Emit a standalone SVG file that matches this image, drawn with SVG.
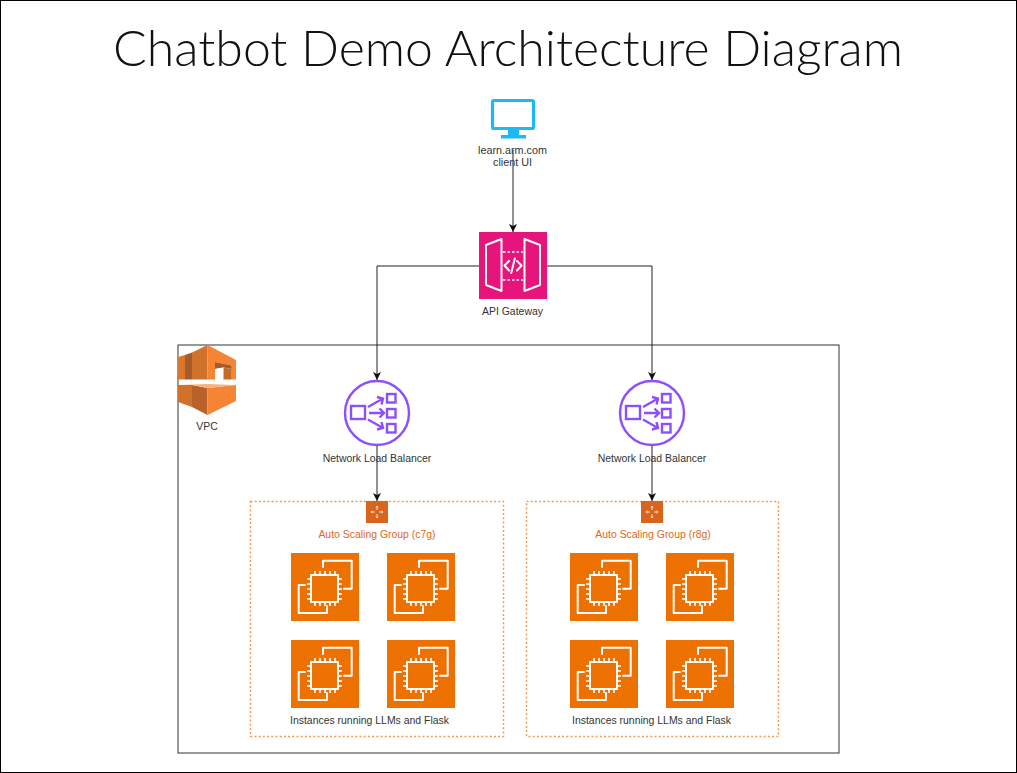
<svg xmlns="http://www.w3.org/2000/svg" width="1017" height="773" viewBox="0 0 1017 773">
<style>
text{font-family:"Liberation Sans",Arial,sans-serif;font-size:10.45px;fill:#333;text-anchor:middle}
.title{font-family:Lato,"Open Sans",sans-serif;font-weight:300;font-size:50px;fill:#111}
.org{fill:#D9691E}
.client{font-size:10.8px}
.line{fill:none;stroke:#222;stroke-width:1}
.asg{fill:none;stroke:#F19A55;stroke-width:1.5;stroke-dasharray:2 2.2}
.w{fill:none;stroke:#fff;stroke-width:2;stroke-linejoin:round;stroke-linecap:round}
.thin{stroke-width:1.6;stroke-linecap:butt}
.p{fill:none;stroke:#8C4FFF;stroke-width:2.4}
</style>
<defs>
<marker id="arr" markerUnits="userSpaceOnUse" markerWidth="10" markerHeight="10" refX="8" refY="5" orient="auto"><path d="M0 1L8 5L0 9L2 5Z" fill="#111"/></marker>
<g id="ec2">
<rect width="68" height="68" fill="#ED7100"/>
<path class="w" d="M32 14V7.700H60.700V35.700H53M14 32H7.700V60H36V53"/>
<rect class="w" x="20" y="22" width="27" height="27"/>
<path class="w thin" d="M24 22V18M29 22V18M34 22V18M39 22V18M44 22V18M24 49V53M29 49V53M34 49V53M39 49V53M44 49V53M20 26H16M20 31H16M20 36H16M20 41H16M20 46H16M47 26H51M47 31H51M47 36H51M47 41H51M47 46H51"/>
</g>
<g id="nlb">
<circle class="p" cx="34" cy="33" r="32"/>
<rect class="p" x="8" y="26" width="14" height="13"/>
<rect class="p" x="44" y="14" width="8.500" height="8.500"/>
<rect class="p" x="44" y="29" width="8.500" height="8.500"/>
<rect class="p" x="44" y="44" width="8.500" height="8.500"/>
<path class="p" d="M25 27L40 18.500M34 17L40 18.500L38.500 24.500M26 33H41M36.500 28.500L41 33L36.500 37.500M25 39.500L40 48M38.500 42L40 48L34 49.500"/>
</g>
<g id="asgicon">
<rect width="22" height="22" fill="#D9641E"/>
<path d="M11 5V9M11 13V17M5 11H9M13 11H17M9.700 6.300L11 5L12.300 6.300M9.700 15.700L11 17L12.300 15.700M6.300 9.700L5 11L6.300 12.300M15.700 9.700L17 11L15.700 12.300" fill="none" stroke="#FBE3D2" stroke-width="1"/>
</g>
</defs>
<rect width="1017" height="773" fill="#fff"/>
<rect x=".5" y=".5" width="1016" height="772" fill="none" stroke="#000"/>
<text class="title" x="508" y="66">Chatbot Demo Architecture Diagram</text>
<g id="vpc">
<rect x="178" y="345" width="661" height="408" fill="none" stroke="#333" stroke-width="1"/>
<path d="M178 357L185 355V379.500H178Z" fill="#D8782F"/>
<path d="M185 355L192 352.500V379.500H185Z" fill="#A85A28"/>
<path d="M192 352.500L207.500 345V379.500H192Z" fill="#D0712C"/>
<path d="M207.500 345L236 360V379.500H231.700V365.500L215 362V379.500H207.500Z" fill="#F58534"/>
<path d="M215 362L231.700 365.500V369L223.300 367.500L215 369Z" fill="#A85A28"/>
<path d="M223.300 367.500L231.700 369V379.500H223.300Z" fill="#C46A2B"/>
<path d="M215 369L223.300 367.500V379.500H215Z" fill="#fff"/>
<path d="M178 385H192V407L178 402Z" fill="#D0712C"/>
<path d="M192 385L207.500 388V415L192 407Z" fill="#B8622A"/>
<path d="M207.500 388L236 385V401L207.500 415Z" fill="#F58534"/>
<path d="M178 385L207 384L236 385L207.500 388L192 385Z" fill="#F9B27A"/>
<text x="207" y="430">VPC</text>
</g>
<g id="connectors">
<path class="line" marker-end="url(#arr)" d="M513 150V232"/>
<path class="line" marker-end="url(#arr)" d="M479 266H377V380"/>
<path class="line" marker-end="url(#arr)" d="M547 266H652V380"/>
<path class="line" marker-end="url(#arr)" d="M377 446V501"/>
<path class="line" marker-end="url(#arr)" d="M652 446V501"/>
</g>
<g id="client">
<rect x="492.500" y="100.500" width="41" height="28" rx="1.500" fill="none" stroke="#1CB9F4" stroke-width="3.200"/>
<path d="M508 130H519V135H526V138.500H501V135H508Z" fill="#1CB9F4"/>
<text class="client" x="512.500" y="154">learn.arm.com</text>
<text class="client" x="512.500" y="166">client UI</text>
</g>
<g id="api-gateway">
<rect x="479" y="232" width="68" height="67" fill="#E7157B"/>
<path class="w" d="M501.500 239L486 245V285L501.500 291ZM524.500 239L540 245V285L524.500 291Z"/>
<path class="w thin" stroke-dasharray="2.500 2" d="M503 252H523M503 280H523"/>
<path class="w" d="M509 261L504.500 265.500L509 270.500M517 261L521.500 265.500L517 270.500M514.800 258.500L511.200 273"/>
<text x="512.500" y="315">API Gateway</text>
</g>
<g id="nlb-left">
<use href="#nlb" x="343" y="380"/>
<text x="377" y="462">Network Load Balancer</text>
</g>
<g id="nlb-right">
<use href="#nlb" x="618" y="380"/>
<text x="652" y="462">Network Load Balancer</text>
</g>
<g id="asg-left">
<rect class="asg" x="250.500" y="501.500" width="253" height="235"/>
<use href="#asgicon" x="366" y="501"/>
<text class="org" style="fill:#D9691E" x="377" y="538">Auto Scaling Group (c7g)</text>
<use href="#ec2" x="291" y="553"/>
<use href="#ec2" x="387" y="553"/>
<use href="#ec2" x="291" y="640"/>
<use href="#ec2" x="387" y="640"/>
<text x="369.500" y="724">Instances running LLMs and Flask</text>
</g>
<g id="asg-right">
<rect class="asg" x="526.500" y="501.500" width="252" height="235"/>
<use href="#asgicon" x="641" y="501"/>
<text class="org" style="fill:#D9691E" x="653" y="538">Auto Scaling Group (r8g)</text>
<use href="#ec2" x="570" y="553"/>
<use href="#ec2" x="666" y="553"/>
<use href="#ec2" x="570" y="640"/>
<use href="#ec2" x="666" y="640"/>
<text x="651.500" y="724">Instances running LLMs and Flask</text>
</g>
</svg>
